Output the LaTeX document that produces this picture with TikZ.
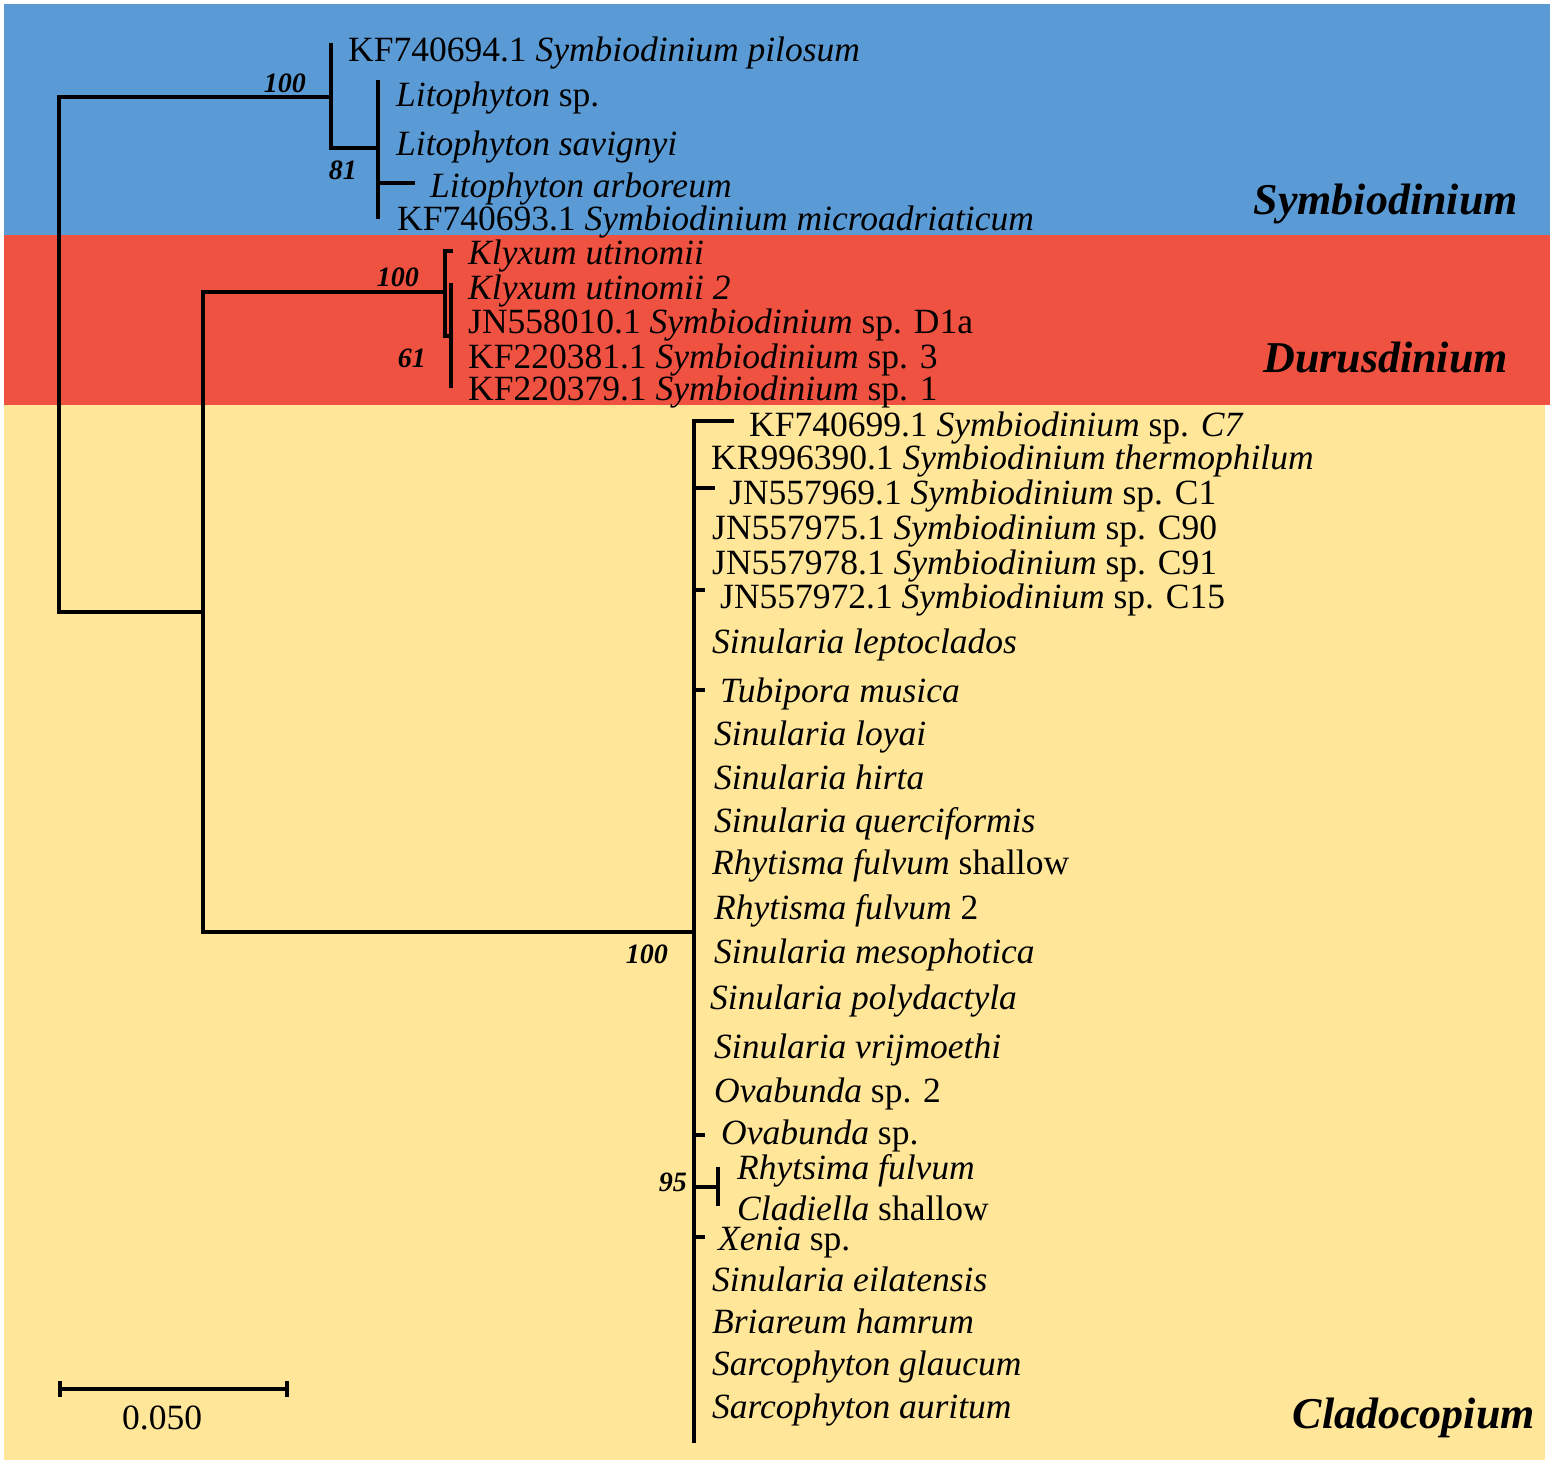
\documentclass[tikz,border=0pt]{standalone}
\usepackage{fontspec}
\setmainfont{Liberation Serif}
\definecolor{symbc}{HTML}{5B9BD5}
\definecolor{durc}{HTML}{F05241}
\definecolor{cladc}{HTML}{FFE699}
\begin{document}
\begin{tikzpicture}[x=1pt,y=-1pt,
  br/.style={line width=4.8pt},
  lab/.style={anchor=base west,inner sep=0pt,font=\fontsize{35.5}{40}\selectfont},
  boot/.style={anchor=base east,inner sep=0pt,font=\fontsize{28}{32}\selectfont\bfseries\itshape},
  clade/.style={anchor=base east,inner sep=0pt,font=\fontsize{44}{50}\selectfont\bfseries\itshape}]
\useasboundingbox (0,0) rectangle (1559,1466);
% backgrounds
\fill[white] (0,0) rectangle (1559,1466);
\fill[symbc] (4,4) rectangle (1550,235);
\fill[durc] (4,235) rectangle (1550,405);
\fill[cladc] (4,405) rectangle (1545,1460);
% tree coordinates
\coordinate (root) at (59,400);
\coordinate (nSym) at (331,97);
\coordinate (tP1) at (331,43);
\coordinate (nLit) at (378,148);
\coordinate (tL1) at (378,80);
\coordinate (tL3) at (415,183);
\coordinate (tL4) at (378,219);
\coordinate (nLow) at (203,612);
\coordinate (nRed) at (445,292);
\coordinate (tK1) at (453,251);
\coordinate (nRedS) at (451,336);
\coordinate (tK2) at (451,283);
\coordinate (tK5) at (451,388);
\coordinate (nClad) at (694,932);
\coordinate (tC7) at (734,421);
\coordinate (tC1) at (715,488);
\coordinate (tC15) at (705,590);
\coordinate (tTub) at (705,690);
\coordinate (tOv) at (705,1135);
\coordinate (n95) at (718,1187);
\coordinate (tRf) at (718,1167);
\coordinate (tCl) at (718,1206);
\coordinate (tXe) at (705,1237);
\coordinate (tBot) at (694,1443);
% branches
\draw[br] (root) |- (nSym);
\draw[br] (root) |- (nLow);
\draw[br] (nSym) |- (tP1);
\draw[br] (nSym) |- (nLit);
\draw[br] (nLit) |- (tL1);
\draw[br] (nLit) |- (tL3);
\draw[br] (nLit) |- (tL4);
\draw[br] (nLow) |- (nRed);
\draw[br] (nLow) |- (nClad);
\draw[br] (nRed) |- (tK1);
\draw[br] (nRed) |- (nRedS);
\draw[br] (nRedS) |- (tK2);
\draw[br] (nRedS) |- (tK5);
\draw[br] (nClad) |- (tC7);
\draw[br] (nClad) |- (tC1);
\draw[br] (nClad) |- (tC15);
\draw[br] (nClad) |- (tTub);
\draw[br] (nClad) |- (tOv);
\draw[br] (nClad) |- (n95);
\draw[br] (nClad) |- (tXe);
\draw[br] (nClad) |- (tBot);
\draw[br] (n95) |- (tRf);
\draw[br] (n95) |- (tCl);
% labels: Symbiodinium clade
\node[lab] (l1) at (348,62) {KF740694.1 \textit{Symbiodinium pilosum}};
\node[lab] (l2) at (396,107) {\textit{Litophyton} sp.};
\node[lab] (l3) at (396,156) {\textit{Litophyton savignyi}};
\node[lab] (l4) at (430,198) {\textit{Litophyton arboreum}};
\node[lab] (l5) at (397,231) {KF740693.1 \textit{Symbiodinium microadriaticum}};
% Durusdinium clade
\node[lab] (l6) at (468,265) {\textit{Klyxum utinomii}};
\node[lab] (l7) at (468,300) {\textit{Klyxum utinomii 2}};
\node[lab] (l8) at (468,334) {JN558010.1 \textit{Symbiodinium} sp. D1a};
\node[lab] (l9) at (468,368) {KF220381.1 \textit{Symbiodinium} sp. 3};
\node[lab] (l10) at (468,400) {KF220379.1 \textit{Symbiodinium} sp. 1};
% Cladocopium clade
\node[lab] (c1) at (749,436) {KF740699.1 \textit{Symbiodinium} sp. \textit{C7}};
\node[lab] (c2) at (711,469) {KR996390.1 \textit{Symbiodinium thermophilum}};
\node[lab] (c3) at (729,504) {JN557969.1 \textit{Symbiodinium} sp. C1};
\node[lab] (c4) at (712,539) {JN557975.1 \textit{Symbiodinium} sp. C90};
\node[lab] (c5) at (712,574) {JN557978.1 \textit{Symbiodinium} sp. C91};
\node[lab] (c6) at (720,608) {JN557972.1 \textit{Symbiodinium} sp. C15};
\node[lab] (c7) at (712,653) {\textit{Sinularia leptoclados}};
\node[lab] (c8) at (720,702) {\textit{Tubipora musica}};
\node[lab] (c9) at (714,745) {\textit{Sinularia loyai}};
\node[lab] (c10) at (714,789) {\textit{Sinularia hirta}};
\node[lab] (c11) at (714,832) {\textit{Sinularia querciformis}};
\node[lab] (c12) at (712,874) {\textit{Rhytisma fulvum} shallow};
\node[lab] (c13) at (714,919) {\textit{Rhytisma fulvum} 2};
\node[lab] (c14) at (714,963) {\textit{Sinularia mesophotica}};
\node[lab] (c15) at (710,1009) {\textit{Sinularia polydactyla}};
\node[lab] (c16) at (714,1058) {\textit{Sinularia vrijmoethi}};
\node[lab] (c17) at (714,1102) {\textit{Ovabunda} sp. 2};
\node[lab] (c18) at (721,1144) {\textit{Ovabunda} sp.};
\node[lab] (c19) at (737,1179) {\textit{Rhytsima fulvum}};
\node[lab] (c20) at (737,1220) {\textit{Cladiella} shallow};
\node[lab] (c21) at (718,1250) {\textit{Xenia} sp.};
\node[lab] (c22) at (712,1291) {\textit{Sinularia eilatensis}};
\node[lab] (c23) at (712,1333) {\textit{Briareum hamrum}};
\node[lab] (c24) at (712,1375) {\textit{Sarcophyton glaucum}};
\node[lab] (c25) at (712,1418) {\textit{Sarcophyton auritum}};
% bootstrap values
\node[boot] (b1) at (306,93) {100};
\node[boot] (b2) at (357,180) {81};
\node[boot] (b3) at (419,287) {100};
\node[boot] (b4) at (426,367) {61};
\node[boot] (b5) at (668,963) {100};
\node[boot] (b6) at (687,1191) {95};
% clade names
\node[clade] (k1) at (1518,215) {Symbiodinium};
\node[clade] (k2) at (1508,372) {Durusdinium};
\node[clade] (k3) at (1535,1428) {Cladocopium};
% scale bar
\coordinate (sbL) at (60,1389);
\coordinate (sbR) at (287,1389);
\draw[line width=4pt] (sbL) -- (sbR);
\draw[line width=4pt] ([yshift=-8pt]sbL) -- ([yshift=8pt]sbL);
\draw[line width=4pt] ([yshift=-8pt]sbR) -- ([yshift=8pt]sbR);
\node[lab] (sb) at (122,1429) {0.050};
\end{tikzpicture}
\end{document}
